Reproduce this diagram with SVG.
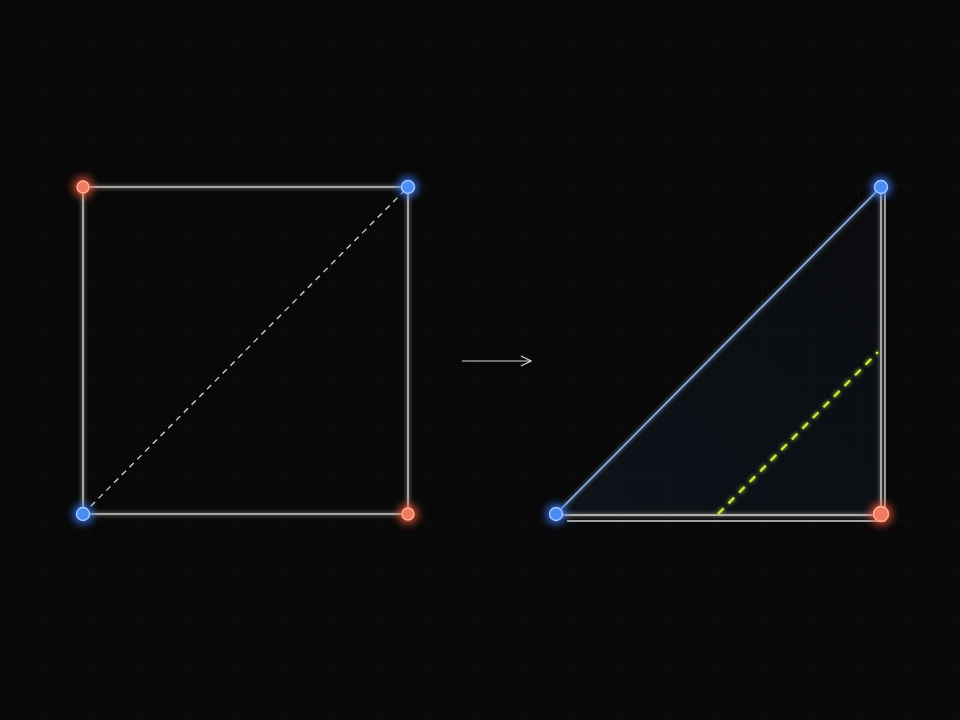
<svg xmlns="http://www.w3.org/2000/svg" width="960" height="720" viewBox="0 0 960 720">
<defs>
<pattern id="grid" x="-5" y="-6" width="48" height="48" patternUnits="userSpaceOnUse">
<path d="M48 0V48M0 48H48" fill="none" stroke="#141414" stroke-width="1"/>
</pattern>
<filter id="halo" x="-200%" y="-200%" width="500%" height="500%">
<feGaussianBlur stdDeviation="4"/>
</filter>
<filter id="soft" x="-10%" y="-10%" width="120%" height="120%">
<feGaussianBlur stdDeviation="2" result="b"/>
<feMerge><feMergeNode in="b"/><feMergeNode in="SourceGraphic"/></feMerge>
</filter>
<linearGradient id="tri" x1="0" y1="1" x2="1" y2="0">
<stop offset="0" stop-color="#1a2a44" stop-opacity="0.3"/>
<stop offset="1" stop-color="#1a2a44" stop-opacity="0.1"/>
</linearGradient>
<marker id="arr" viewBox="0 0 12 12" refX="11" refY="6" markerWidth="12" markerHeight="12" markerUnits="userSpaceOnUse" orient="auto">
<path d="M1 1L11 6L1 11" fill="none" stroke="#d8d8d8" stroke-width="1.2"/>
</marker>
<style>
.edge{fill:none;stroke:#d8d5d0;stroke-width:1.4}
.dash{fill:none;stroke:#d8d5d0;stroke-width:1.3;stroke-dasharray:6 5}
.hyp{fill:none;stroke:#94b6ee;stroke-width:1.6}
.green{fill:none;stroke:#c4e63c;stroke-width:2.4;stroke-dasharray:8 7}
.red{fill:#f07a60;stroke:#ffb19c;stroke-width:1.4}
.blue{fill:#4a8df2;stroke:#a6c8ff;stroke-width:1.4}
.rh{fill:#ff5a3a;opacity:0.8}
.bh{fill:#3a7cff;opacity:0.85}
</style>
</defs>
<rect width="960" height="720" fill="#080808"/>
<rect width="960" height="720" fill="url(#grid)"/>
<g id="left-square">
<rect x="83" y="187" width="325" height="327" fill="#0e0e0e" class="edge" filter="url(#soft)"/>
</g>
<g id="right-triangle">
<path d="M556 514L881 187V514Z" fill="url(#tri)" stroke="none"/>
</g>
<g id="connectors">
<line x1="83" y1="514" x2="408" y2="187" class="dash"/>
<line x1="462" y1="361" x2="531" y2="361" stroke="#d8d8d8" stroke-width="1.2" marker-end="url(#arr)"/>
<line x1="556" y1="514" x2="881" y2="187" class="hyp" filter="url(#soft)"/>
<path d="M556 515H881V187" class="edge" filter="url(#soft)"/>
<path d="M567 521H885V191" class="edge" stroke-width="1.2"/>
<line x1="718" y1="514" x2="878" y2="352" class="green" filter="url(#soft)"/>
</g>
<g id="tl-dot"><circle cx="83" cy="187" r="10" class="rh" filter="url(#halo)"/><circle cx="83" cy="187" r="6" class="red"/></g>
<g id="tr-dot"><circle cx="408" cy="187" r="10" class="bh" filter="url(#halo)"/><circle cx="408" cy="187" r="6.5" class="blue"/></g>
<g id="bl-dot"><circle cx="83" cy="514" r="10" class="bh" filter="url(#halo)"/><circle cx="83" cy="514" r="6.5" class="blue"/></g>
<g id="br-dot"><circle cx="408" cy="514" r="10" class="rh" filter="url(#halo)"/><circle cx="408" cy="514" r="6" class="red"/></g>
<g id="tri-bl-dot"><circle cx="556" cy="514" r="10" class="bh" filter="url(#halo)"/><circle cx="556" cy="514" r="6.5" class="blue"/></g>
<g id="tri-tr-dot"><circle cx="881" cy="187" r="10" class="bh" filter="url(#halo)"/><circle cx="881" cy="187" r="6.5" class="blue"/></g>
<g id="tri-br-dot"><circle cx="881" cy="514" r="11" class="rh" filter="url(#halo)"/><circle cx="881" cy="514" r="7.5" class="red"/></g>
</svg>
